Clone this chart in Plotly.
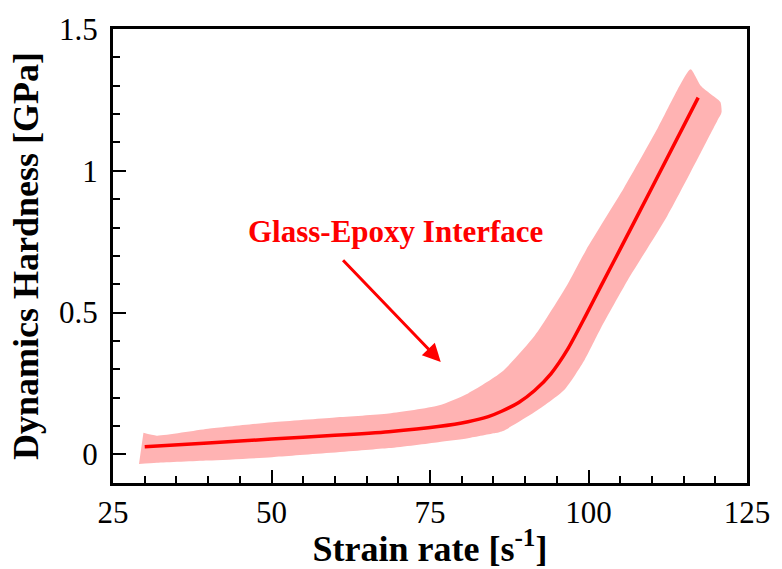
import plotly.graph_objects as go

# Mean curve
rate = [30, 40, 50, 60, 68.5, 76.3, 81, 84.2, 86.3, 89.0, 91.5, 94.1, 96.7, 99.4, 102.0, 105.1, 110, 117.3]
hardness = [0.027, 0.04, 0.054, 0.067, 0.08, 0.098, 0.115, 0.133, 0.152, 0.183, 0.225, 0.285, 0.37, 0.482, 0.595, 0.728, 0.94, 1.258]

# Scatter band: upper edge (left -> right), lower edge (left -> right)
band_upper_x = [29.8, 31.9, 40, 50.1, 60, 68.5, 76.3, 81.0, 86.3, 91.5, 96.7, 99.6, 105.6, 110.9, 114.5, 116.1, 117.7, 119.2, 120.8, 121.0]
band_upper_y = [0.076, 0.066, 0.09, 0.113, 0.13, 0.144, 0.172, 0.215, 0.29, 0.418, 0.6, 0.72, 0.94, 1.15, 1.305, 1.358, 1.30, 1.272, 1.243, 1.21]
band_lower_x = [29.1, 31.9, 40, 50.1, 68.5, 76.3, 81.0, 85.3, 85.8, 86.5, 91.5, 96.2, 99.4, 102.0, 106.2, 112.4, 117.7, 120.3, 120.9]
band_lower_y = [-0.034, -0.03, -0.022, -0.01, 0.022, 0.043, 0.057, 0.075, 0.077, 0.082, 0.149, 0.228, 0.334, 0.447, 0.615, 0.84, 1.064, 1.176, 1.2]

x_ticks = [25, 50, 75, 100, 125]
y_ticks = [0, 0.5, 1, 1.5]
y_tick_labels = ["0", "0.5", "1", "1.5"]

FONT = "Times New Roman, Liberation Serif, serif"

band_x = band_upper_x + band_lower_x[::-1]
band_y = band_upper_y + band_lower_y[::-1]

fig = go.Figure()
fig.add_trace(go.Scatter(x=band_x, y=band_y, fill="toself", mode="lines",
                         line=dict(width=0, color="rgba(0,0,0,0)", shape="spline", smoothing=0.6),
                         fillcolor="#FFB3B3", hoverinfo="skip", showlegend=False))
fig.add_trace(go.Scatter(x=rate, y=hardness, mode="lines",
                         line=dict(color="#FF0000", width=3.5, shape="spline", smoothing=0.6),
                         showlegend=False))

axis_common = dict(showgrid=False, zeroline=False, showline=True, linecolor="black",
                   linewidth=3, mirror=True, ticks="inside", ticklen=13, tickwidth=2,
                   tickcolor="black",
                   tickfont=dict(family=FONT, size=31, color="black"))

fig.update_xaxes(range=[25, 125], tickvals=x_ticks, ticktext=[str(v) for v in x_ticks],
                 minor=dict(ticks="inside", dtick=5, ticklen=7, tickwidth=2, tickcolor="black"),
                 title=dict(text="<b>Strain rate [s<sup>-1</sup>]</b>",
                            font=dict(family=FONT, size=36, color="black"), standoff=2),
                 **axis_common)
fig.update_yaxes(range=[-0.101, 1.5], tickvals=y_ticks, ticktext=y_tick_labels,
                 minor=dict(ticks="inside", dtick=0.1, ticklen=7, tickwidth=2, tickcolor="black"),
                 title=dict(text="<b>Dynamics Hardness [GPa]</b>",
                            font=dict(family=FONT, size=36, color="black"), standoff=10),
                 ticklabelstandoff=6,
                 **axis_common)

fig.add_annotation(x=76.7, y=0.326, ax=61.06, ay=0.69, xref="x", yref="y",
                   axref="x", ayref="y", text="", showarrow=True,
                   arrowhead=2, arrowsize=1.2, arrowwidth=3, arrowcolor="#FF0000")
fig.add_annotation(x=69.6, y=0.785, xref="x", yref="y", text="<b>Glass-Epoxy Interface</b>",
                   showarrow=False, font=dict(family=FONT, size=31, color="#FF0000"))

fig.update_layout(width=782, height=569, margin=dict(l=113, r=32, t=20, b=73),
                  paper_bgcolor="white", plot_bgcolor="white")

fig.write_html("out.html")
